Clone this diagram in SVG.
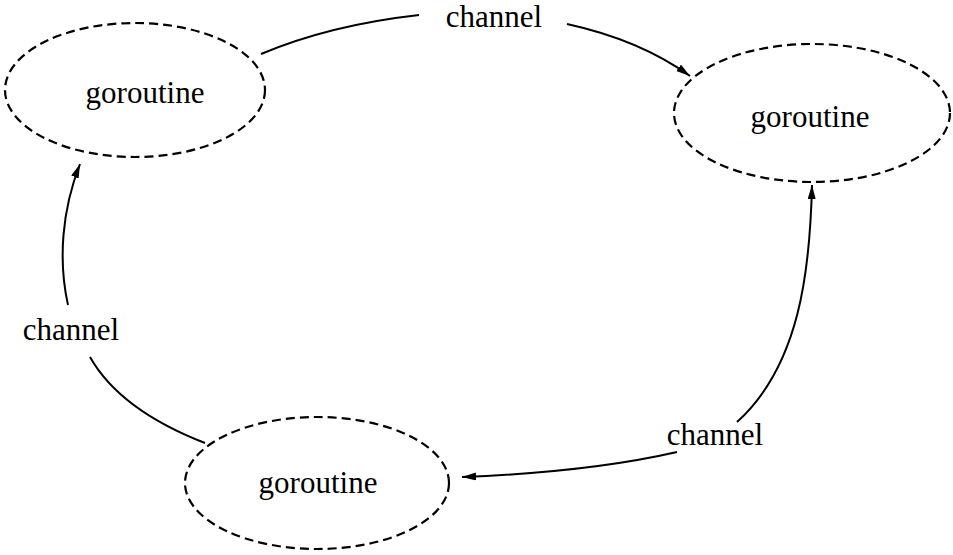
<svg xmlns="http://www.w3.org/2000/svg" width="953" height="555" viewBox="0 0 953 555">
<style>
.node ellipse{fill:none;stroke:#000;stroke-width:2.2;stroke-dasharray:9 5}
text{font-family:"Liberation Serif","Times New Roman",serif;font-size:31px;fill:#000;text-anchor:middle}
.conn path{fill:none;stroke:#000;stroke-width:2}
</style>
<defs>
<marker id="arr" markerUnits="userSpaceOnUse" markerWidth="16" markerHeight="9" refX="14" refY="4" orient="auto">
<path d="M0,0 L14,4 L0,8 z" fill="#000"/>
</marker>
</defs>
<rect width="953" height="555" fill="#fff"/>
<g id="g1" class="node">
<ellipse cx="135" cy="90" rx="130" ry="67"/>
<text x="145" y="103">goroutine</text>
</g>
<g id="g2" class="node">
<ellipse cx="812" cy="113" rx="138" ry="69"/>
<text x="810" y="127">goroutine</text>
</g>
<g id="g3" class="node">
<ellipse cx="317" cy="483" rx="132" ry="66"/>
<text x="318" y="493">goroutine</text>
</g>
<g id="labels">
<text x="494" y="27">channel</text>
<text x="71" y="340">channel</text>
<text x="715" y="445">channel</text>
</g>
<g id="connectors" class="conn">
<path d="M261,54 Q330,25 419,15"/>
<path d="M567,24 Q640,40 690,76" marker-end="url(#arr)"/>
<path d="M737,422 C800,365 810,270 812,185" marker-end="url(#arr)"/>
<path d="M677,452 Q590,472 462,477" marker-end="url(#arr)"/>
<path d="M205,443 Q120,410 90,357"/>
<path d="M68,305 C58,260 62,210 80,164" marker-end="url(#arr)"/>
</g>
</svg>
